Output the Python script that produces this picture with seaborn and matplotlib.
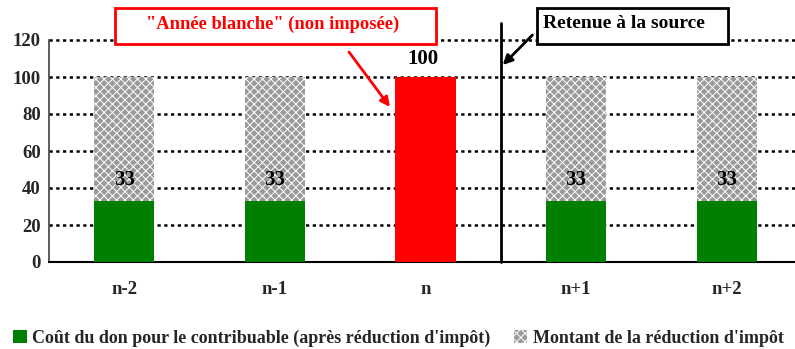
import matplotlib
matplotlib.use("Agg")
import matplotlib.pyplot as plt
from matplotlib.patches import Rectangle, Patch
import seaborn as sns
import numpy as np

# Chart data
categories = ["n-2", "n-1", "n", "n+1", "n+2"]
cout_don = [33, 33, 0, 33, 33]          # coût du don après réduction
reduction = [67, 67, 0, 67, 67]         # montant de la réduction d'impôt
annee_blanche = [0, 0, 100, 0, 0]       # année blanche (non imposée)
y_ticks = [0, 20, 40, 60, 80, 100, 120]

sns.set_theme(style="white")
plt.rcParams["font.family"] = ["Liberation Serif", "DejaVu Serif"]
plt.rcParams["font.weight"] = "bold"
plt.rcParams["hatch.color"] = "white"
plt.rcParams["hatch.linewidth"] = 0.7

GREEN = "#008000"
RED = "#ff0000"
GREY = "#9a9a9a"

fig = plt.figure(figsize=(7.95, 3.49), dpi=100)
W, H = 795, 349
ax = fig.add_axes([49 / W, 87 / H, 753 / W, 222 / H])

totals = [c + r for c, r in zip(cout_don, reduction)]

# stacked bars: grey total behind, green cost in front, red single year
sns.barplot(x=categories, y=totals, color=GREY, width=0.4, saturation=1,
            hatch="xxxx", edgecolor="white", linewidth=0, ax=ax, zorder=2)
sns.barplot(x=categories, y=cout_don, color=GREEN, width=0.4, saturation=1,
            linewidth=0, ax=ax, zorder=3)
sns.barplot(x=categories, y=annee_blanche, color=RED, width=0.4, saturation=1,
            linewidth=0, ax=ax, zorder=3)

ax.set_xlim(-0.5, len(categories) - 0.5)
ax.set_ylim(0, 120)
ax.set_yticks(y_ticks)
ax.set_yticklabels([str(v) for v in y_ticks], fontsize=13.5, fontweight="bold")
ax.set_xticks(range(len(categories)))
ax.set_xticklabels(categories, fontsize=13.5, fontweight="bold")
ax.set_xticks(np.arange(-0.5, len(categories), 1.0), minor=True)
ax.tick_params(axis="x", which="major", length=0, pad=14)
ax.tick_params(axis="x", which="minor", length=4, width=1, color="#808080",
               direction="out")
ax.tick_params(axis="y", length=4, width=1, color="#404040", direction="out", pad=2)
ax.set_xlabel("")
ax.set_ylabel("")

for side in ("top", "right"):
    ax.spines[side].set_visible(False)
ax.spines["left"].set_color("#404040")
ax.spines["left"].set_linewidth(1.2)
ax.spines["bottom"].set_color("black")
ax.spines["bottom"].set_linewidth(1.5)

# dotted horizontal grid
for v in y_ticks[1:]:
    ax.axhline(v, color="black", lw=1.8, ls=(0, (1.3, 1.4)), zorder=1,
               clip_on=False)

# value labels
for i, c in enumerate(cout_don):
    if c:
        ax.text(i, c + 11.5, str(c), ha="center", va="center",
                fontsize=15, fontweight="bold", color="black", zorder=5)
for i, v in enumerate(annee_blanche):
    if v:
        ax.text(i - 0.02, v + 4.5, str(v), ha="center", va="bottom",
                fontsize=15, fontweight="bold", color="black", zorder=5)

# separator between years without and with withholding tax
ax.plot([2.5, 2.5], [0, 129], color="black", lw=2, clip_on=False, zorder=4)

# red callout box
fig.patches.append(Rectangle((115 / W, 1 - 44 / H), 321 / W, 36 / H,
                             transform=fig.transFigure, facecolor="white",
                             edgecolor=RED, lw=2, zorder=6))
fig.text(273 / W, 1 - 24 / H, "\"Année blanche\" (non imposée)", color=RED,
         ha="center", va="center", fontsize=13.3, fontweight="bold", zorder=7)
ax.annotate("", xy=(1.764, 83.8), xytext=(1.492, 113.5),
            arrowprops=dict(arrowstyle="-|>", color=RED, lw=2,
                            mutation_scale=14, shrinkA=0, shrinkB=0),
            annotation_clip=False, zorder=6)

# black callout box
fig.patches.append(Rectangle((537 / W, 1 - 44 / H), 191 / W, 36 / H,
                             transform=fig.transFigure, facecolor="white",
                             edgecolor="black", lw=2, zorder=6))
fig.text(543 / W, 1 - 24 / H, "Retenue à la source", color="black",
         ha="left", va="center", fontsize=14, fontweight="bold", zorder=7)
ax.annotate("", xy=(2.513, 106.5), xytext=(2.71, 122.7),
            arrowprops=dict(arrowstyle="-|>", color="black", lw=2,
                            mutation_scale=14, shrinkA=0, shrinkB=0),
            annotation_clip=False, zorder=6)

# legend
handles = [
    Patch(facecolor=GREEN, edgecolor="none"),
    Patch(facecolor=GREY, edgecolor="white", hatch="xxxx", lw=0),
]
labels = ["Coût du don pour le contribuable (après réduction d'impôt)",
          "Montant de la réduction d'impôt"]
fig.legend(handles, labels, loc="center left", bbox_to_anchor=(6 / W, 1 - 338 / H),
           ncol=2, frameon=False, handlelength=0.75,
           handleheight=0.75, handletextpad=0.3, columnspacing=1.3,
           borderaxespad=0, prop={"weight": "bold", "size": 13})

fig.savefig("out.png", dpi=100, facecolor="white")
